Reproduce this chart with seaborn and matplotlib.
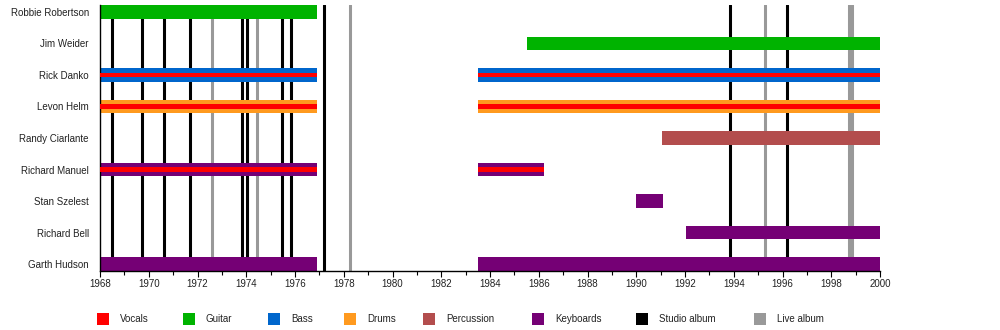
import matplotlib
matplotlib.use("Agg")
import matplotlib.pyplot as plt
import seaborn as sns
import pandas as pd
from matplotlib.patches import Rectangle

sns.set_theme(style="white")
plt.rcParams['font.family'] = ['Liberation Sans', 'DejaVu Sans']

members = ["Robbie Robertson", "Jim Weider", "Rick Danko", "Levon Helm",
           "Randy Ciarlante", "Richard Manuel", "Stan Szelest", "Richard Bell",
           "Garth Hudson"]

# periods: (member, start, end, instrument, sings)
period_member = ["Robbie Robertson", "Jim Weider", "Rick Danko", "Rick Danko",
                 "Levon Helm", "Levon Helm", "Randy Ciarlante", "Richard Manuel",
                 "Richard Manuel", "Stan Szelest", "Richard Bell",
                 "Garth Hudson", "Garth Hudson"]
period_start = [1968.0, 1985.5, 1968.0, 1983.5, 1968.0, 1983.5, 1991.05, 1968.0,
                1983.5, 1990.0, 1992.05, 1968.0, 1983.5]
period_end = [1976.92, 2000.0, 1976.92, 2000.0, 1976.92, 2000.0, 2000.0, 1976.92,
              1986.2, 1991.08, 2000.0, 1976.92, 2000.0]
period_role = ["Guitar", "Guitar", "Bass", "Bass", "Drums", "Drums", "Percussion",
               "Keyboards", "Keyboards", "Keyboards", "Keyboards", "Keyboards",
               "Keyboards"]
period_vocals = [False, False, True, True, True, True, False, True, True, False,
                 False, False, False]

studio_albums = [1968.5, 1969.74, 1970.64, 1971.7, 1973.81, 1974.04, 1975.48,
                 1975.85, 1977.2, 1993.85, 1996.2]
live_albums = [1972.61, 1974.45, 1978.26, 1995.29, 1998.74, 1998.87]

legend_labels = ["Vocals", "Guitar", "Bass", "Drums", "Percussion", "Keyboards",
                 "Studio album", "Live album"]

colors = {"Vocals": "#FF0000", "Guitar": "#00B300", "Bass": "#0066CC",
          "Drums": "#FF9A1F", "Percussion": "#B34D4D", "Keyboards": "#750075",
          "Studio album": "#000000", "Live album": "#999999"}

df = pd.DataFrame({"member": period_member, "start": period_start,
                   "end": period_end, "role": period_role, "vocals": period_vocals})
df["pos"] = df["member"].map({m: i for i, m in enumerate(members)})

fig = plt.figure(figsize=(10, 3.3), dpi=100)
ax = fig.add_axes([0.1, 1 - 271 / 330, 0.78, (271 - 5) / 330])

for x in studio_albums:
    ax.axvline(x, color=colors["Studio album"], lw=2.2, zorder=1)
for x in live_albums:
    ax.axvline(x, color=colors["Live album"], lw=2.2, zorder=1)

bh = 0.44
ax.barh(df["pos"], df["end"] - df["start"], left=df["start"], height=bh,
        color=[colors[r] for r in df["role"]], zorder=2, linewidth=0)
v = df[df["vocals"]]
ax.barh(v["pos"], v["end"] - v["start"], left=v["start"], height=bh / 3,
        color=colors["Vocals"], zorder=3, linewidth=0)

ax.set_xlim(1968, 2000)
ax.set_ylim(len(members) - 1 + bh / 2, -bh / 2)
ax.set_yticks(range(len(members)))
ax.set_yticklabels(members, fontsize=7, color="#222222")
ax.set_xticks(range(1968, 2001, 2))
ax.set_xticks(range(1968, 2001, 1), minor=True)
ax.set_xticklabels([str(y) for y in range(1968, 2001, 2)], fontsize=7, color="#222222")
ax.tick_params(axis="x", which="major", direction="out", length=4, width=0.8,
               color="black", bottom=True, pad=2)
ax.tick_params(axis="x", which="minor", direction="out", length=3, width=0.8,
               color="black", bottom=True)
ax.tick_params(axis="y", length=0, pad=8)
for s in ["top", "right"]:
    ax.spines[s].set_visible(False)
for s in ["left", "bottom"]:
    ax.spines[s].set_color("black")
    ax.spines[s].set_linewidth(1.0)
ax.grid(False)

# legend
sq_x = [97, 183, 268, 344, 423, 532, 636, 754]
for lab, x in zip(legend_labels, sq_x):
    fig.patches.append(Rectangle((x / 1000, 1 - 325 / 330), 12 / 1000, 12 / 330,
                                 transform=fig.transFigure, color=colors[lab],
                                 linewidth=0))
    fig.text((x + 23) / 1000, 1 - 319 / 330, lab, fontsize=7, color="#222222",
             va="center", ha="left")

fig.savefig("out.png", dpi=100)
